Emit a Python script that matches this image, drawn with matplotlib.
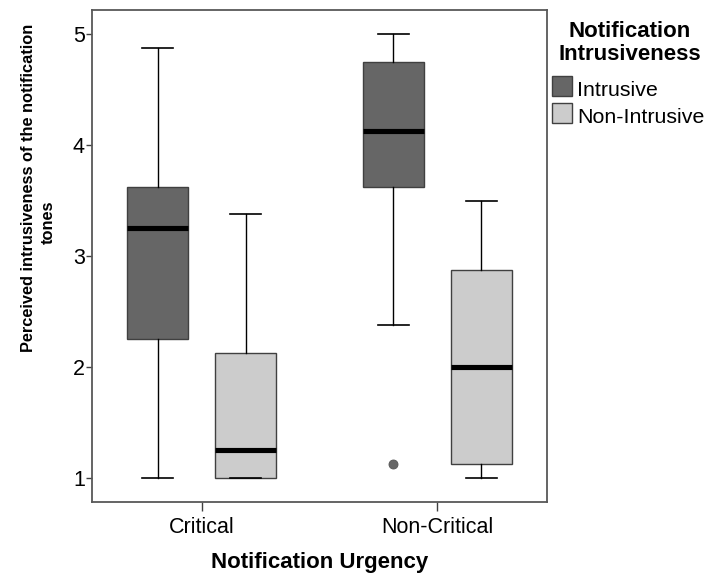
import matplotlib
matplotlib.use("Agg")
import matplotlib.pyplot as plt
from matplotlib import font_manager
from matplotlib.font_manager import FontProperties
from matplotlib.patches import Rectangle

plt.rcParams['font.family'] = ['Liberation Sans', 'DejaVu Sans']

# data
groups = ['Critical', 'Non-Critical']
series = ['Intrusive', 'Non-Intrusive']
whislo = [[1.0, 1.0], [2.375, 1.0]]
q1 = [[2.25, 1.0], [3.625, 1.125]]
med = [[3.25, 1.25], [4.125, 2.0]]
q3 = [[3.625, 2.125], [4.75, 2.875]]
whishi = [[4.875, 3.375], [5.0, 3.5]]
fliers = [[[], []], [[1.125], []]]

colors = ['#666666', '#cccccc']
W, H = 708, 577


def fx(px):
    return px / W


def fy(py):
    return 1 - py / H


fig = plt.figure(figsize=(W / 100, H / 100), dpi=100)
ax = fig.add_axes([fx(92.3), fy(502), (546.7 - 92.3) / W, (502 - 10) / H])

offs = [-0.187, 0.187]
for g in range(len(groups)):
    for s in range(len(series)):
        st = dict(whislo=whislo[g][s], q1=q1[g][s], med=med[g][s],
                  q3=q3[g][s], whishi=whishi[g][s], fliers=fliers[g][s])
        ax.bxp([st], positions=[g + offs[s]], widths=0.261, capwidths=0.133,
               showfliers=True, patch_artist=True,
               boxprops=dict(facecolor=colors[s], edgecolor='#404040', linewidth=1.0),
               medianprops=dict(color='black', linewidth=3.7, solid_capstyle='butt'),
               whiskerprops=dict(color='black', linewidth=1.0),
               capprops=dict(color='black', linewidth=1.2),
               flierprops=dict(marker='o', markersize=6.5, markerfacecolor='#666666',
                               markeredgecolor='#555555', markeredgewidth=0.6))

ax.set_xlim(-0.464, 1.464)
ax.set_ylim(0.78, 5.22)
ax.set_xticks([0, 1])
ax.set_xticklabels(groups)
ax.set_yticks([1, 2, 3, 4, 5])
ax.tick_params(axis='x', length=6.5, width=1.0, color='#404040', labelsize=15.5, pad=4.5)
ax.tick_params(axis='y', length=4.3, width=1.0, color='#404040', labelsize=15.5, pad=1)
for sp in ax.spines.values():
    sp.set_color('#585858')
    sp.set_linewidth(1.3)

fig.text(fx(319.5), fy(562.5), 'Notification Urgency', ha='center', va='center',
         fontsize=16, fontweight='bold')

# y label: the reference uses a condensed bold face
try:
    font_manager.findfont(FontProperties(family='Liberation Sans Narrow', weight='bold'),
                          fallback_to_default=False)
    yfam, ysize = ['Liberation Sans Narrow', 'DejaVu Sans'], 14
except ValueError:
    yfam, ysize = ['Liberation Sans', 'DejaVu Sans'], 11.8
fig.text(fx(33.3), fy(187.5), 'Perceived intrusiveness of the notification', rotation=90,
         rotation_mode='anchor', ha='center', va='baseline', fontsize=ysize,
         fontweight='bold', family=yfam)
fig.text(fx(53), fy(222), 'tones', rotation=90, rotation_mode='anchor', ha='center',
         va='baseline', fontsize=ysize, fontweight='bold', family=yfam)

# legend
fig.text(fx(630), fy(37.3), 'Notification', ha='center', va='baseline',
         fontsize=16, fontweight='bold')
fig.text(fx(630), fy(59.5), 'Intrusiveness', ha='center', va='baseline',
         fontsize=16, fontweight='bold')
tops = [76, 103]
for s in range(len(series)):
    fig.patches.append(Rectangle((fx(552), fy(tops[s] + 19.7)), 20.3 / W, 19.7 / H,
                                 transform=fig.transFigure, facecolor=colors[s],
                                 edgecolor='#404040', linewidth=1.0))
    fig.text(fx(577), fy(tops[s] + 19.7), series[s], ha='left', va='baseline',
             fontsize=15.4)

fig.savefig('out.png', dpi=100)
